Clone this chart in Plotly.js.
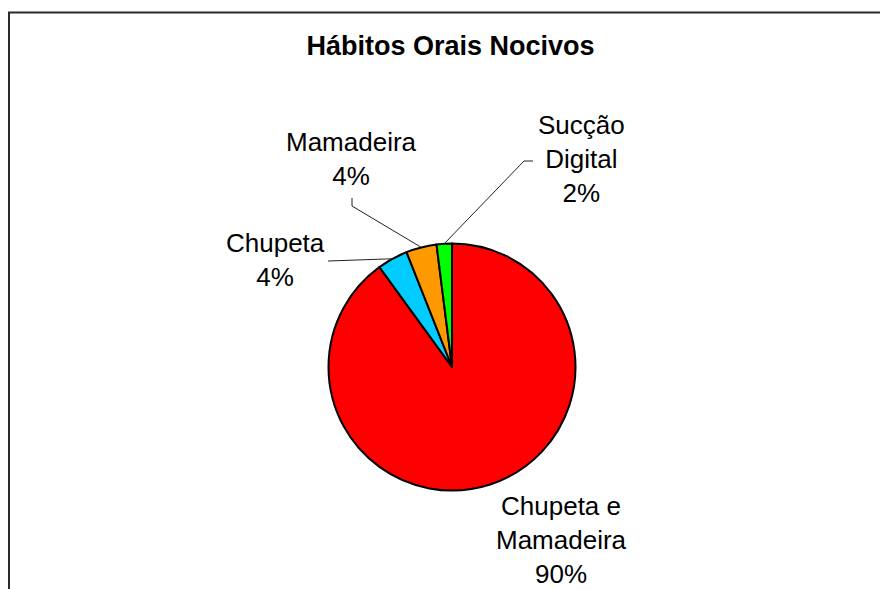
<!DOCTYPE html>
<html>
<head>
<meta charset="utf-8">
<script src="https://cdn.plot.ly/plotly-3.0.1.min.js"></script>
<style>html,body{margin:0;padding:0;background:#fff;}#chart{width:880px;height:589px;}</style>
</head>
<body>
<div id="chart"></div>
<script>
// Data
var categories = ["Chupeta e Mamadeira", "Chupeta", "Mamadeira", "Sucção Digital"];
var labelText = ["Chupeta e<br>Mamadeira", "Chupeta", "Mamadeira", "Sucção<br>Digital"];
var values = [90, 4, 4, 2];
var colors = ["#FF0000", "#00CCFF", "#FF9900", "#00FF00"];
var chartTitle = "Hábitos Orais Nocivos";

// Layout helpers (pixel positions of the drawing)
var W = 880, H = 589;
var cx = 452, cy = 367, R = 123.5;
function px(x){ return x / W; }
function py(y){ return 1 - y / H; }

// label placement (center of text block) and leader paths (label side)
var labelPos = [[561, 540], [275, 259.5], [351.5, 159.5], [581, 159]];
var leaderPts = [null, [[328, 261]], [[352, 206], [352, 198]], [[524, 161], [533, 161]]];

var total = values.reduce(function(a,b){return a+b;}, 0);

var annotations = [];
var shapes = [];
var cum = 0;
for (var i = 0; i < values.length; i++) {
  var pct = Math.round(values[i] / total * 100) + "%";
  annotations.push({
    xref: "paper", yref: "paper",
    x: px(labelPos[i][0]), y: py(labelPos[i][1]),
    xanchor: "center", yanchor: "middle",
    text: labelText[i] + "<br>" + pct,
    showarrow: false,
    font: {family: "Liberation Sans, Arial, sans-serif", size: 26, color: "#000"}
  });
  var mid = (cum + values[i] / 2) / total * 2 * Math.PI; // clockwise from top
  cum += values[i];
  if (leaderPts[i]) {
    var ax = cx + R * Math.sin(mid), ay = cy - R * Math.cos(mid);
    var d = "M" + px(ax) + "," + py(ay);
    leaderPts[i].forEach(function(p){ d += " L" + px(p[0]) + "," + py(p[1]); });
    shapes.push({type: "path", xref: "paper", yref: "paper", path: d,
      line: {color: "#222", width: 1}});
  }
}

// outer frame (top and left visible, bottom cut off)
shapes.push({type: "path", xref: "paper", yref: "paper",
  path: "M" + px(9) + "," + py(620) + " L" + px(9) + "," + py(12.5) + " L" + px(900) + "," + py(12.5),
  line: {color: "#2a2a2a", width: 2}});

var trace = {
  type: "pie",
  labels: categories,
  values: values,
  sort: false,
  direction: "clockwise",
  rotation: 0,
  textinfo: "none",
  hoverinfo: "label+percent",
  marker: {colors: colors, line: {color: "#000", width: 2}},
  domain: {x: [px(cx - R), px(cx + R)], y: [py(cy + R), py(cy - R)]},
  showlegend: false
};

var layout = {
  width: W, height: H,
  margin: {l: 0, r: 0, t: 0, b: 0},
  paper_bgcolor: "#fff",
  title: {
    text: "<b>" + chartTitle + "</b>",
    x: px(450.5), xanchor: "center",
    y: py(46), yanchor: "middle", yref: "container", xref: "container",
    font: {family: "Liberation Sans, Arial, sans-serif", size: 27, color: "#000"}
  },
  annotations: annotations,
  shapes: shapes,
  showlegend: false
};

Plotly.newPlot("chart", [trace], layout, {displayModeBar: false, staticPlot: true});
</script>
</body>
</html>
